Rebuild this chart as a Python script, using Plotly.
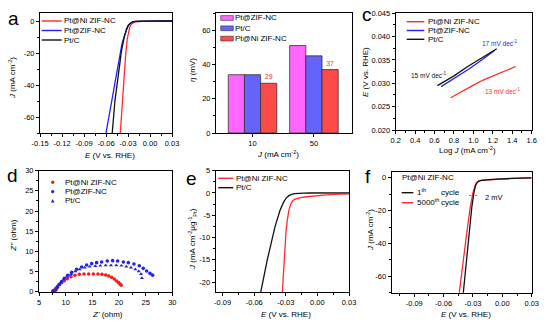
import plotly.graph_objects as go

W, H = 548, 329
FONT = "Liberation Sans, Arial, sans-serif"

# ---------------- data ----------------
names_a = ["Pt@Ni ZIF-NC", "Pt@ZIF-NC", "Pt/C"]

# (a) HER polarization curves, E (V vs RHE) and J (mA cm-2)
a_E_ni = [-0.0405, -0.0380, -0.0355, -0.0330, -0.0310, -0.0292, -0.0275, -0.0258, -0.0240,
          -0.0220, -0.0195, -0.0160, -0.0110, -0.0050, 0.0050, 0.0150, 0.0300]
a_J_ni = [-70, -52, -36, -20, -11, -6.5, -3.8, -2.2, -1.3, -0.8, -0.5, -0.3, -0.18, -0.1,
          -0.05, -0.02, 0]
a_E_zif = [-0.0600, -0.0540, -0.0480, -0.0425, -0.0385, -0.0355, -0.0320, -0.0295, -0.0273,
           -0.0250, -0.0225, -0.0195, -0.0150, -0.0080, 0.0, 0.0150, 0.0300]
a_J_zif = [-70, -54.5, -38.8, -24.4, -15, -10, -5, -2.7, -1.5, -0.8, -0.4, -0.2, -0.1, -0.05,
           -0.02, -0.01, 0]
a_E_ptc = [-0.0515, -0.0477, -0.0432, -0.0390, -0.0355, -0.0318, -0.0295, -0.0273, -0.0250,
           -0.0225, -0.0195, -0.0150, -0.0080, 0.0, 0.0150, 0.0300]
a_J_ptc = [-70, -49.4, -33.8, -19, -10.8, -4.6, -2.6, -1.5, -0.8, -0.4, -0.2, -0.1, -0.05,
           -0.02, -0.01, 0]

# (b) overpotentials at 10 and 50 mA cm-2
b_cats = ["10", "50"]
b_names = ["Pt@ZIF-NC", "Pt/C", "Pt@Ni ZIF-NC"]
b_zif = [34, 51]
b_ptc = [34, 45]
b_ni = [29, 37]

# (c) Tafel plots
c_logJ_ni = [0.766, 0.90, 1.00, 1.10, 1.20, 1.30, 1.435]
c_E_ni = [0.0269, 0.0285, 0.0296, 0.0307, 0.0316, 0.0325, 0.0336]
c_logJ_zif = [0.667, 0.80, 0.95, 1.10, 1.22]
c_E_zif = [0.0293, 0.0310, 0.0330, 0.0352, 0.0371]
c_logJ_ptc = [0.629, 0.80, 0.95, 1.10, 1.24]
c_E_ptc = [0.0295, 0.0316, 0.0337, 0.0356, 0.0374]
c_slopes = ["13 mV dec<sup>-1</sup>", "17 mV dec<sup>-1</sup>", "15 mV dec<sup>-1</sup>"]

# (d) Nyquist plots, Z' and Z'' (ohm)
d_re_ni = [7.6, 7.69, 8.06, 8.44, 8.81, 9.25, 9.75, 10.31, 11.0, 11.75, 12.56, 13.44, 14.31,
           15.19, 16.06, 16.81, 17.5, 18.06, 18.63, 19.13, 19.56, 19.94, 20.25, 20.4]
d_im_ni = [0.05, 0.26, 0.75, 1.25, 1.74, 2.24, 2.73, 3.23, 3.73, 4.06, 4.31, 4.39, 4.39,
           4.39, 4.39, 4.31, 4.14, 3.89, 3.56, 3.15, 2.65, 2.24, 1.83, 1.6]
d_re_zif = [7.6, 7.9, 8.19, 8.44, 8.81, 9.25, 9.75, 10.38, 11.13, 12.06, 13.0, 13.94, 14.88,
            15.81, 16.75, 17.81, 18.81, 19.75, 20.81, 21.75, 22.81, 23.81, 24.56, 25.19,
            25.81, 26.31]
d_im_zif = [0.05, 0.15, 0.42, 1.08, 1.83, 2.49, 3.31, 4.06, 4.80, 5.55, 6.12, 6.62, 6.95,
            7.2, 7.36, 7.61, 7.7, 7.61, 7.36, 7.2, 6.87, 6.45, 5.79, 5.13, 4.55, 4.1]
d_re_ptc = [7.6, 7.85, 8.06, 8.38, 8.75, 9.13, 9.63, 10.25, 11.0, 11.81, 12.63, 13.56, 14.5,
            15.56, 16.5, 17.5, 18.5, 19.5, 20.44, 21.38, 22.25, 23.06, 23.69, 24.13, 24.31]
d_im_ptc = [0.05, 0.15, 0.42, 1.08, 1.74, 2.4, 3.07, 3.73, 4.39, 5.05, 5.55, 5.96, 6.21,
            6.37, 6.45, 6.54, 6.54, 6.54, 6.45, 6.21, 5.96, 5.55, 5.05, 4.39, 3.4]

# (e) Pt-mass normalised polarization curves
e_names = ["Pt@Ni ZIF-NC", "Pt/C"]
e_E_ni = [-0.0333, -0.0322, -0.0310, -0.0298, -0.0286, -0.0270, -0.0252, -0.0232, -0.0212,
          -0.0195, -0.0160, -0.0100, -0.0030, 0.0060, 0.0160, 0.0300]
e_J_ni = [-22.3, -17, -12, -8.5, -6.1, -3.8, -2.4, -1.7, -1.4, -1.25, -1.05, -0.85, -0.65,
          -0.48, -0.33, -0.2]
e_E_ptc = [-0.0539, -0.0476, -0.0403, -0.0355, -0.0320, -0.0295, -0.0270, -0.0245, -0.0215,
           -0.0180, -0.0130, -0.0060, 0.0050, 0.0300]
e_J_ptc = [-22.3, -15, -7.6, -3.9, -2.0, -1.1, -0.6, -0.3, -0.15, -0.07, -0.03, -0.01, 0, 0]

# (f) stability: first and 5000th cycle
f_names = ["1<sup>th</sup>", "5000<sup>th</sup>"]
f_E_1 = [-0.0399, -0.0368, -0.0338, -0.0312, -0.0290, -0.0272, -0.0257, -0.0240, -0.0215,
         -0.0150, -0.0050, 0.0100, 0.0300]
f_J_1 = [-70.2, -50, -32, -18, -9, -4.5, -2.8, -2.0, -1.6, -1.2, -0.8, -0.4, -0.1]
f_E_5000 = [-0.0440, -0.0400, -0.0360, -0.0328, -0.0300, -0.0278, -0.0260, -0.0242, -0.0217,
            -0.0150, -0.0050, 0.0100, 0.0300]
f_J_5000 = [-70.2, -50, -32, -18, -9, -4.5, -2.8, -2.0, -1.6, -1.2, -0.8, -0.4, -0.1]

# tick values and labels
a_xt = [-0.15, -0.12, -0.09, -0.06, -0.03, 0.0, 0.03]
a_xl = ["-0.15", "-0.12", "-0.09", "-0.06", "-0.03", "0.00", "0.03"]
a_yt = [0, -20, -40, -60]
a_yl = ["0", "-20", "-40", "-60"]
b_yt = [0, 20, 40, 60]
b_yl = ["0", "20", "40", "60"]
c_xt = [0.2, 0.4, 0.6, 0.8, 1.0, 1.2, 1.4, 1.6]
c_xl = ["0.2", "0.4", "0.6", "0.8", "1.0", "1.2", "1.4", "1.6"]
c_yt = [0.020, 0.025, 0.030, 0.035, 0.040, 0.045]
c_yl = ["0.020", "0.025", "0.030", "0.035", "0.040", "0.045"]
d_xt = [5, 10, 15, 20, 25, 30]
d_xl = ["5", "10", "15", "20", "25", "30"]
d_yt = [0, 5, 10, 15, 20, 25, 30]
d_yl = ["0", "5", "10", "15", "20", "25", "30"]
e_xt = [-0.09, -0.06, -0.03, 0.0, 0.03]
e_xl = ["-0.09", "-0.06", "-0.03", "0.00", "0.03"]
e_yt = [5, 0, -5, -10, -15, -20]
e_yl = ["5", "0", "-5", "-10", "-15", "-20"]
f_xt = [-0.09, -0.06, -0.03, 0.0, 0.03]
f_xl = ["-0.09", "-0.06", "-0.03", "0.00", "0.03"]
f_yt = [0, -20, -40, -60]
f_yl = ["0", "-20", "-40", "-60"]

# axis titles
E_T = "<i>E</i> (V vs. RHE)"
J_T = "<i>J</i> (mA cm<sup>-2</sup>)"
ETA_T = "<i>η</i> (mV)"
LOGJ_T = "Log <i>J</i> (mA cm<sup>-2</sup>)"
ZRE_T = "<i>Z'</i> (ohm)"
ZIM_T = "<i>Z''</i> (ohm)"
JPT_T = "<i>J</i> (mA cm<sup>-2</sup>μg<sup>-1</sup><sub>Pt</sub>)"

# ---------------- colours ----------------
RED = "#ff2a2a"
BLUE = "#2020ff"
BLACK = "#111111"
NAVY = "#2424c8"
PINK = "#ff66ff"
BAR_BLUE = "#6464fa"
BAR_RED = "#ff4a4a"


def px(x):
    return x / W


def py(y):
    return 1 - y / H


fig = go.Figure()


def line(x, y, color, ax, width=1.3):
    fig.add_trace(go.Scatter(x=x, y=y, mode="lines", line=dict(color=color, width=width),
                             xaxis="x" + ax, yaxis="y" + ax, showlegend=False,
                             hoverinfo="skip"))


# (a)
line(a_E_ni, a_J_ni, RED, "")
line(a_E_zif, a_J_zif, BLUE, "")
line(a_E_ptc, a_J_ptc, BLACK, "")

# (b)
for vals, col, nm in [(b_zif, PINK, b_names[0]), (b_ptc, BAR_BLUE, b_names[1])]:
    fig.add_trace(go.Bar(x=b_cats, y=vals, marker=dict(color=col, line=dict(color="#333", width=0.8)),
                         name=nm, xaxis="x2", yaxis="y2", showlegend=False))
fig.add_trace(go.Bar(x=b_cats, y=b_ni, marker=dict(color=BAR_RED, line=dict(color="#333", width=0.8)),
                     name=b_names[2], xaxis="x2", yaxis="y2", showlegend=False,
                     text=[str(v) for v in b_ni], textposition="outside",
                     textfont=dict(color=RED, size=7, family=FONT), cliponaxis=False))

# (c)
line(c_logJ_ni, c_E_ni, RED, "3")
line(c_logJ_zif, c_E_zif, BLUE, "3")
line(c_logJ_ptc, c_E_ptc, BLACK, "3")

# (d)
for xr, yi, col, sym in [(d_re_ni, d_im_ni, "#ff1a1a", "circle"),
                          (d_re_zif, d_im_zif, BLUE, "circle"),
                          (d_re_ptc, d_im_ptc, NAVY, "triangle-up")]:
    fig.add_trace(go.Scatter(x=xr, y=yi, mode="markers",
                             marker=dict(color=col, size=3.6, symbol=sym, line=dict(width=0)),
                             xaxis="x4", yaxis="y4", showlegend=False, hoverinfo="skip"))

# (e)
line(e_E_ni, e_J_ni, RED, "5")
line(e_E_ptc, e_J_ptc, BLACK, "5")

# (f)
line(f_E_5000, f_J_5000, RED, "6")
line(f_E_1, f_J_1, BLACK, "6")


# ---------------- axes ----------------
def ax(dom, rng, tv, tt, minor_dt, anchor, **kw):
    d = dict(domain=dom, range=rng, tickmode="array", tickvals=tv, ticktext=tt,
             showline=True, linecolor="black", linewidth=1, mirror=True,
             ticks="outside", ticklen=3, tickwidth=0.9, tickcolor="black",
             tickfont=dict(size=7.5, color="black", family=FONT),
             showgrid=False, zeroline=False, anchor=anchor, automargin=False)
    if minor_dt:
        d["minor"] = dict(tickmode="linear", tick0=0, dtick=minor_dt, ticks="outside",
                          ticklen=1.8, tickwidth=0.7, tickcolor="black")
    d.update(kw)
    return d


dom = {
    "a": ([px(40), px(172)], [py(133), py(13)]),
    "b": ([px(216), px(352)], [py(133), py(13)]),
    "c": ([px(395.7), px(531.7)], [py(130), py(13.3)]),
    "d": ([px(39), px(172.3)], [py(291.7), py(170.7)]),
    "e": ([px(215.7), px(349)], [py(292.3), py(170.7)]),
    "f": ([px(391.7), px(531.7)], [py(292.7), py(171.7)]),
}

fig.update_layout(
    xaxis=ax(dom["a"][0], [-0.15, 0.03], a_xt, a_xl, 0.015, "y"),
    yaxis=ax(dom["a"][1], [-70, 5], a_yt, a_yl, 10, "x"),
    xaxis2=ax(dom["b"][0], [-0.595, 1.62], [0, 1], b_cats, None, "y2", type="category"),
    yaxis2=ax(dom["b"][1], [0, 70], b_yt, b_yl, 10, "x2"),
    xaxis3=ax(dom["c"][0], [0.2, 1.6], c_xt, c_xl, 0.1, "y3"),
    yaxis3=ax(dom["c"][1], [0.020, 0.045], c_yt, c_yl, 0.0025, "x3"),
    xaxis4=ax(dom["d"][0], [5, 30], d_xt, d_xl, 2.5, "y4"),
    yaxis4=ax(dom["d"][1], [0, 30], d_yt, d_yl, 2.5, "x4"),
    xaxis5=ax(dom["e"][0], [-0.0966, 0.03], e_xt, e_xl, 0.015, "y5"),
    yaxis5=ax(dom["e"][1], [-22.3, 5], e_yt, e_yl, 2.5, "x5"),
    xaxis6=ax(dom["f"][0], [-0.113, 0.03], f_xt, f_xl, 0.015, "y6"),
    yaxis6=ax(dom["f"][1], [-70, 3.7], f_yt, f_yl, 10, "x6"),
    barmode="group", bargap=0.21, bargroupgap=0,
    width=W, height=H, margin=dict(l=0, r=0, t=0, b=0),
    paper_bgcolor="white", plot_bgcolor="white",
    font=dict(family=FONT, color="black"),
    showlegend=False,
)


# ---------------- text helpers ----------------
def text(x, y, s, size=8, color="black", anchor="left", angle=0):
    fig.add_annotation(xref="paper", yref="paper", x=px(x), y=py(y), text=s, showarrow=False,
                       xanchor=anchor, yanchor="middle", textangle=angle,
                       font=dict(size=size, color=color, family=FONT), borderpad=0)


# axis titles (x titles centred under each box, y titles rotated)
for (xx, yy), t in zip([(110, 155), (278, 154), (467, 150.5), (107.5, 314), (286, 314), (466, 314)],
                       [E_T, J_T, LOGJ_T, ZRE_T, E_T, E_T]):
    text(xx, yy, t, anchor="center")
for (xx, yy), t in zip([(12, 78), (193, 70), (365, 72), (12.7, 236), (192, 239), (370, 230)],
                       [J_T, ETA_T, E_T, ZIM_T, JPT_T, J_T]):
    text(xx, yy, t, anchor="center", angle=-90)


# ---------------- hand-built legends ----------------
def line_legend(x0, x1, xt, rows, labels, colors):
    for yy, lab, col in zip(rows, labels, colors):
        fig.add_shape(type="line", xref="paper", yref="paper", x0=px(x0), x1=px(x1),
                      y0=py(yy), y1=py(yy), line=dict(color=col, width=1.4))
        text(xt, yy, lab)


line_legend(41.7, 61.7, 62.5, [21, 30.5, 40], names_a, [RED, BLUE, BLACK])
line_legend(406.7, 424.3, 426.5, [21.7, 30.5, 39.3], names_a, [RED, BLUE, BLACK])
line_legend(218.3, 233.3, 234.5, [178.3, 187.7], e_names, [RED, BLACK])

# bar legend (b)
for yy, lab, col in zip([18, 28.3, 38.6], b_names, [PINK, BAR_BLUE, BAR_RED]):
    fig.add_shape(type="rect", xref="paper", yref="paper", x0=px(220.7), x1=px(233.3),
                  y0=py(yy + 2.4), y1=py(yy - 2.4), fillcolor=col, line=dict(color="#333", width=0.6))
    text(234, yy, lab)

# marker legend (d)
for yy, lab, col, sym in zip([182.3, 191.6, 200.8], names_a, ["#ff1a1a", BLUE, NAVY],
                             ["circle", "circle", "tri"]):
    if sym == "circle":
        fig.add_shape(type="circle", xref="paper", yref="paper", x0=px(51.0), x1=px(54.4),
                      y0=py(yy + 1.7), y1=py(yy - 1.7), fillcolor=col, line=dict(width=0))
    else:
        fig.add_shape(type="path", xref="paper", yref="paper",
                      path=f"M {px(50.8)} {py(yy + 1.6)} L {px(54.6)} {py(yy + 1.6)} L {px(52.7)} {py(yy - 1.9)} Z",
                      fillcolor=col, line=dict(width=0))
    text(63.5, yy, lab)

# stability legend (f)
text(400.5, 177.5, "Pt@Ni ZIF-NC")
for yy, lab, col in zip([192.7, 202.7], f_names, [BLACK, RED]):
    fig.add_shape(type="line", xref="paper", yref="paper", x0=px(401.7), x1=px(413.3),
                  y0=py(yy), y1=py(yy), line=dict(color=col, width=1.4))
    text(415.5, yy - 1, lab)
    text(440, yy, "cycle")

# slope labels (c)
for (xx, yy), lab, col in zip([(1.30, 0.0284), (1.27, 0.0387), (0.54, 0.0318)], c_slopes,
                              [RED, BLUE, BLACK]):
    fig.add_annotation(xref="x3", yref="y3", x=xx, y=yy, text=lab, showarrow=False,
                       font=dict(size=6.5, color=col, family=FONT))

# 2 mV shift marker (f)
for xx in [-0.033, -0.0262]:
    fig.add_annotation(xref="x6", yref="y6", x=xx, y=-9.9, text="-", showarrow=False,
                       font=dict(size=7, color="black", family=FONT))
fig.add_annotation(xref="x6", yref="y6", x=-0.0195, y=-12.2, text="2 mV", showarrow=False,
                   xanchor="left", font=dict(size=7.5, color="black", family=FONT))

# panel letters
for (xx, yy), lab in zip([(13, 18.3), (366.7, 14.8), (12.7, 175), (191.7, 178.3), (367.5, 176)],
                         ["a", "c", "d", "e", "f"]):
    fig.add_annotation(xref="paper", yref="paper", x=px(xx), y=py(yy), text=lab, showarrow=False,
                       xanchor="center", yanchor="middle", font=dict(size=19, color="black", family=FONT))

fig.write_html("out.html")
